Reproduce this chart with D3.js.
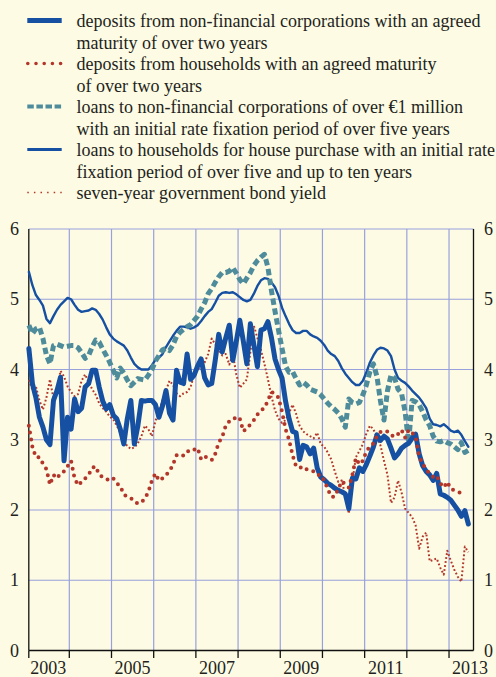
<!DOCTYPE html>
<html><head><meta charset="utf-8">
<script src="https://cdn.jsdelivr.net/npm/d3@7"></script>
<style>html,body{margin:0;padding:0;background:#fdfbe4;}svg{display:block;}</style>
</head><body>
<script>
const legendLabels = [
  ["deposits from non-financial corporations with an agreed","maturity of over two years"],
  ["deposits from households with an agreed maturity","of over two years"],
  ["loans to non-financial corporations of over €1 million","with an initial rate fixation period of over five years"],
  ["loans to households for house purchase with an initial rate","fixation period of over five and up to ten years"],
  ["seven-year government bond yield"]
];
const yTicks = [0,1,2,3,4,5,6];
const yearLabels = [2003,2005,2007,2009,2011,2013];
const gridYears = [2004,2005,2006,2007,2008,2009,2010,2011,2012,2013];
const startYear = 2003; // monthly data from January 2003

const nfcDeposits = [4.30,3.80,3.60,3.32,3.18,3.00,2.93,3.56,3.70,3.89,
 2.70,3.32,3.15,3.58,3.40,3.45,3.75,3.80,3.99,3.99,
 3.75,3.55,3.44,3.50,3.35,3.30,3.15,2.94,3.30,3.56,
 2.94,3.20,3.56,3.55,3.56,3.56,3.50,3.32,3.48,3.70,
 3.38,3.28,3.99,3.82,3.80,4.22,3.86,3.92,4.05,4.15,
 3.88,3.78,3.80,4.13,4.50,4.25,4.45,4.63,4.13,4.40,
 4.70,4.40,4.08,4.65,4.35,4.04,4.56,4.58,4.68,4.45,
 4.15,4.00,3.88,3.55,3.30,3.12,3.10,2.72,2.92,2.90,
 2.80,2.88,2.60,2.47,2.43,2.38,2.35,2.31,2.28,2.26,
 2.23,2.02,2.45,2.44,2.60,2.55,2.65,2.77,2.90,3.07,
 2.99,3.05,3.01,2.88,2.74,2.80,2.88,2.92,2.95,3.02,
 3.08,2.80,2.63,2.55,2.50,2.42,2.52,2.23,2.21,2.18,
 2.14,2.07,2.00,1.91,1.99,1.80];

const hhDeposits = [3.20,2.90,2.75,2.75,2.66,2.58,2.36,2.50,2.45,2.52,
 2.55,2.62,2.70,2.45,2.35,2.40,2.45,2.50,2.60,2.62,
 2.50,2.47,2.44,2.42,2.45,2.38,2.34,2.22,2.19,2.17,
 2.12,2.09,2.11,2.16,2.26,2.42,2.52,2.42,2.45,2.50,
 2.55,2.65,2.78,2.76,2.78,2.84,2.83,2.86,2.88,2.72,
 2.76,2.74,2.71,2.80,2.96,3.04,3.20,3.26,3.28,3.33,
 3.30,3.12,3.16,3.22,3.28,3.36,3.42,3.45,3.56,3.68,
 3.65,3.60,3.40,3.15,3.00,2.78,2.62,2.60,2.62,2.58,
 2.56,2.55,2.50,2.50,2.42,2.30,2.19,2.19,2.30,2.41,
 2.37,2.32,2.50,2.74,2.65,2.70,2.84,2.90,2.95,3.05,
 3.11,3.10,3.12,3.07,3.04,3.08,3.14,3.03,3.14,3.10,
 3.04,2.76,2.66,2.57,2.52,2.47,2.49,2.38,2.32,2.40,
 2.30,2.28,2.26,2.24,2.21];

const nfcLoans = [4.63,4.51,4.58,4.60,4.44,4.20,4.08,4.34,4.36,4.34,
 4.32,4.33,4.34,4.34,4.31,4.24,4.16,4.20,4.32,4.42,
 4.39,4.29,4.20,4.10,3.99,3.88,4.02,3.95,3.85,3.77,
 3.82,3.87,3.86,3.85,3.92,4.00,4.12,4.20,4.28,4.30,
 4.27,4.35,4.47,4.53,4.57,4.61,4.64,4.70,4.76,4.86,
 4.95,5.08,5.15,5.24,5.32,5.38,5.38,5.40,5.45,5.37,
 5.28,5.22,5.30,5.38,5.48,5.55,5.60,5.64,5.45,5.12,
 4.83,4.56,4.30,4.05,3.96,3.97,3.87,3.78,3.82,3.78,
 3.72,3.70,3.68,3.64,3.58,3.52,3.47,3.43,3.38,3.30,
 3.18,3.58,3.53,3.51,3.53,3.64,3.78,3.97,4.08,3.90,
 3.55,3.28,3.70,3.92,3.88,3.72,3.66,3.40,2.96,3.56,
 3.54,3.50,3.40,3.28,3.20,3.05,2.98,2.97,2.99,2.96,
 2.94,2.90,2.86,2.96,2.82,2.85];

const houseLoans = [5.39,5.20,5.06,4.99,4.91,4.72,4.66,4.76,4.85,4.92,
 4.97,5.02,5.00,4.92,4.85,4.82,4.83,4.84,4.87,4.85,
 4.79,4.71,4.60,4.50,4.44,4.40,4.37,4.34,4.27,4.17,
 4.08,4.03,4.00,4.00,4.00,4.06,4.14,4.17,4.22,4.32,
 4.40,4.48,4.55,4.61,4.61,4.60,4.58,4.60,4.63,4.69,
 4.76,4.82,4.86,4.95,5.05,5.09,5.10,5.09,5.10,5.07,
 5.03,4.99,4.97,4.99,5.08,5.19,5.27,5.30,5.29,5.24,
 5.17,5.05,4.88,4.76,4.65,4.56,4.52,4.52,4.55,4.55,
 4.50,4.47,4.45,4.41,4.35,4.27,4.22,4.19,4.12,4.02,
 3.94,3.88,3.82,3.78,3.78,3.84,3.96,4.10,4.20,4.28,
 4.31,4.30,4.27,4.19,4.00,3.88,3.84,3.81,3.76,3.70,
 3.65,3.60,3.53,3.45,3.30,3.22,3.21,3.19,3.22,3.18,
 3.13,3.11,3.13,3.07,2.98,2.90];

const bondYield = [3.85,3.71,3.76,3.56,3.43,3.60,3.86,3.58,3.70,3.98,
 3.90,3.76,3.68,3.62,3.65,3.84,3.93,3.82,3.72,3.64,
 3.52,3.45,3.40,3.33,3.29,3.20,3.10,2.98,2.91,2.87,
 2.89,2.95,3.05,3.20,3.15,3.05,3.27,3.40,3.56,3.70,
 3.84,3.78,3.66,3.62,3.66,3.68,3.75,3.93,4.02,3.99,
 4.10,4.22,4.44,4.36,4.28,4.20,4.22,4.07,4.23,3.93,
 3.74,3.80,3.86,4.25,4.62,4.45,4.28,4.08,3.86,3.62,
 3.42,3.30,3.24,3.28,3.38,3.50,3.37,3.20,3.12,3.08,
 3.05,3.02,3.10,2.94,2.90,2.82,2.72,2.55,2.40,2.42,
 2.20,1.95,2.40,2.75,2.84,2.94,3.09,3.20,3.15,3.03,
 2.92,2.70,2.50,2.10,2.18,2.42,2.25,2.02,1.96,1.90,
 1.78,1.45,1.62,1.68,1.27,1.29,1.31,1.18,1.08,1.42,
 1.28,1.15,1.05,0.98,1.48,1.40];

const W = 496, H = 677;
const blue = "#1650a2", teal = "#4f8c9b", red = "#b3362b", grid = "#98a1dc", ink = "#231f20";
const font = "'Liberation Serif','Times New Roman',serif";

const svg = d3.select("body").append("svg").attr("width", W).attr("height", H);
svg.append("rect").attr("width", W).attr("height", H).attr("fill", "#fdfbe4");

const x = d3.scaleLinear().domain([2003.04, 2013.58]).range([28.8, 473.5]);
const y = d3.scaleLinear().domain([0, 6]).range([650.5, 229]);
const tOf = i => startYear + (i + 0.5) / 12;

// grid
svg.append("g").selectAll("line").data(yTicks.filter(d => d > 0)).join("line")
  .attr("x1", x.range()[0]).attr("x2", x.range()[1])
  .attr("y1", d => y(d)).attr("y2", d => y(d))
  .attr("stroke", grid).attr("stroke-width", 1.2);
svg.append("g").selectAll("line").data(gridYears).join("line")
  .attr("x1", d => x(d)).attr("x2", d => x(d))
  .attr("y1", y(6)).attr("y2", y(0))
  .attr("stroke", grid).attr("stroke-width", 1.2);

// axes
const axisG = svg.append("g").attr("stroke", "#111").attr("stroke-width", 1.3);
axisG.append("line").attr("x1", x.range()[0]).attr("x2", x.range()[0]).attr("y1", y(6)).attr("y2", y(0));
axisG.append("line").attr("x1", x.range()[1]).attr("x2", x.range()[1]).attr("y1", y(6)).attr("y2", y(0));
axisG.append("line").attr("x1", x.range()[0]).attr("x2", x.range()[1]).attr("y1", y(0)).attr("y2", y(0));
axisG.selectAll("line.tk").data([2003.04].concat(gridYears)).join("line").attr("class", "tk")
  .attr("x1", d => x(d)).attr("x2", d => x(d)).attr("y1", y(0)).attr("y2", y(0) + 7.5);

// y labels
svg.append("g").selectAll("text").data(yTicks).join("text")
  .attr("x", 19).attr("y", d => y(d)).attr("dy", "0.34em").attr("text-anchor", "end")
  .attr("font-family", font).attr("font-size", 18).attr("fill", ink).text(d => d);
svg.append("g").selectAll("text").data(yTicks).join("text")
  .attr("x", 484).attr("y", d => y(d)).attr("dy", "0.34em").attr("text-anchor", "start")
  .attr("font-family", font).attr("font-size", 18).attr("fill", ink).text(d => d);
// x labels
svg.append("g").selectAll("text").data(yearLabels).join("text")
  .attr("x", d => x(d + 0.5)).attr("y", 674).attr("text-anchor", "middle")
  .attr("font-family", font).attr("font-size", 18).attr("fill", ink).text(d => d);

const line = d3.line().x((d, i) => x(tOf(i))).y(d => y(d));

const series = [
  {data: bondYield, stroke: red, width: 2, dash: "1.8,2.2", cap: "butt"},
  {data: houseLoans, stroke: blue, width: 2.4, dash: null, cap: "round"},
  {data: nfcLoans, stroke: teal, width: 5, dash: "6.5,3.5", cap: "butt"},
  {data: nfcDeposits, stroke: blue, width: 5, dash: null, cap: "round"},
  {data: hhDeposits, stroke: red, width: 4, dash: "0,7", cap: "round"}
];
svg.append("g").selectAll("path").data(series).join("path")
  .attr("d", s => line(s.data)).attr("fill", "none")
  .attr("stroke", s => s.stroke).attr("stroke-width", s => s.width)
  .attr("stroke-dasharray", s => s.dash).attr("stroke-linecap", s => s.cap)
  .attr("stroke-linejoin", "round");

// legend
const legendStyles = [
  {stroke: blue, width: 4.8, dash: null, cap: "butt"},
  {stroke: red, width: 3.6, dash: "0,8.2", cap: "round"},
  {stroke: teal, width: 4, dash: "6.5,2.6", cap: "butt"},
  {stroke: blue, width: 3, dash: null, cap: "butt"},
  {stroke: red, width: 1.6, dash: "1.5,5.1", cap: "butt"}
];
const lineH = 21.5;
let row = 0;
const lg = svg.append("g");
legendLabels.forEach((lines, k) => {
  const base = 27.3 + row * lineH;
  const st = legendStyles[k];
  const sym = lg.append("line").attr("x1", k === 1 ? 27.8 : 27.3).attr("x2", k === 1 ? 61 : 61.7)
    .attr("y1", base - 6.8).attr("y2", base - 6.8)
    .attr("stroke", st.stroke).attr("stroke-width", st.width).attr("stroke-linecap", st.cap);
  if (st.dash) sym.attr("stroke-dasharray", st.dash);
  lines.forEach((t, j) => {
    lg.append("text").attr("x", 76.5).attr("y", base + j * lineH)
      .attr("font-family", font).attr("font-size", 18).attr("fill", ink).text(t);
  });
  row += lines.length;
});
</script>
</body></html>
